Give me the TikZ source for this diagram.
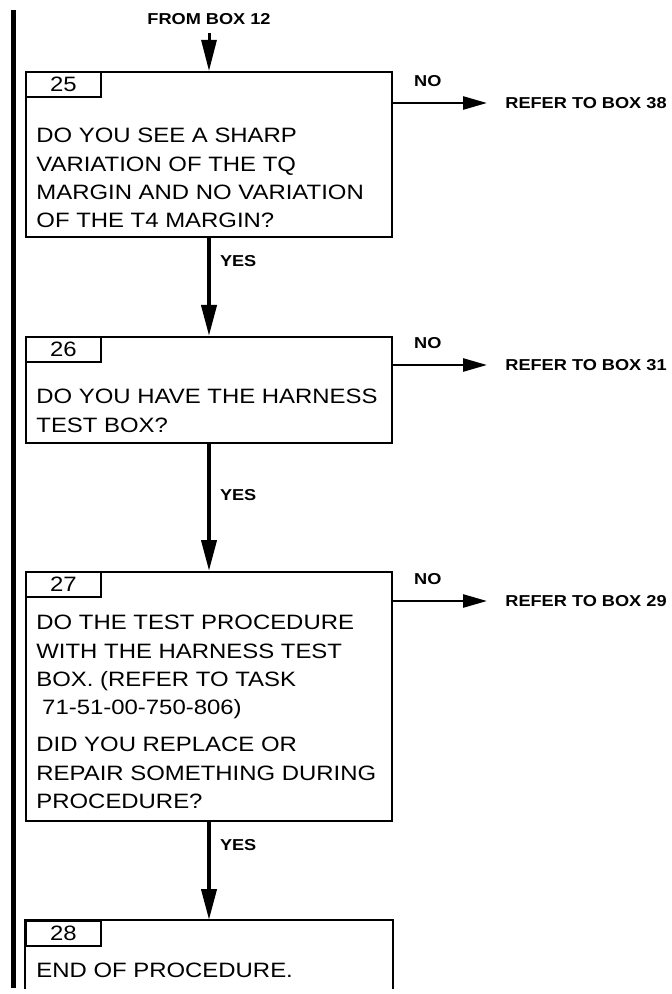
\documentclass[tikz,border=0pt]{standalone}
\usepackage{fontspec}
\setmainfont{Liberation Sans}[FakeStretch=1.15]
\usetikzlibrary{arrows.meta,positioning}
\tikzset{
  box/.style={draw,line width=1pt,minimum width=183pt,minimum height=#1,inner sep=0pt},
  box/.default=50pt,
  tab/.style={draw,line width=1pt,minimum width=37.5pt,minimum height=12.5pt,inner sep=0pt,
    anchor=north west,font=\fontsize{10.4}{12}\selectfont},
  txt/.style={anchor=north west,inner sep=0pt,align=left,font=\fontsize{10.4}{14.15}\selectfont},
  flow/.style={-{Triangle[length=15.5pt,width=7.5pt]},line width=2pt},
  noflow/.style={-{Triangle[length=12pt,width=6.5pt]},line width=1.3pt},
  lbl/.style={font=\bfseries\fontsize{7.9}{9}\selectfont,inner sep=0pt},
  yeslbl/.style={lbl,anchor=west,xshift=4.5pt},
  nolbl/.style={lbl,anchor=south,yshift=7.5pt},
  refer/.style={lbl,anchor=west,inner sep=9pt},
}
\begin{document}
\begin{tikzpicture}[x=0.5pt,y=-0.5pt]
\useasboundingbox (0,0) rectangle (671,994);
% change bar
\draw[line width=2.5pt] (13,10) -- (13,988);

% boxes
\node[lbl,inner sep=4pt] (from12) at (209,19) {FROM BOX 12};
\node[box=82.5pt] (b25) at (209,154.5) {};
\node[box=53pt] (b26) at (209,390) {};
\node[box=124.5pt] (b27) at (209,696.5) {};
\node[box=33.5pt,draw=none] (b28) at (209,954.5) {};
\draw[line width=1pt] (b28.south west) |- (b28.north east) -- (b28.south east);

\node[tab] (n25) at (b25.north west) {25};
\node[tab] (n26) at (b26.north west) {26};
\node[tab] (n27) at (b27.north west) {27};
\node[tab] (n28) at (b28.north west) {28};

\node[txt] (t25) at (36,128) {DO YOU SEE A SHARP\\VARIATION OF THE TQ\\MARGIN AND NO VARIATION\\OF THE T4 MARGIN?};
\node[txt] (t26) at (36,389) {DO YOU HAVE THE HARNESS\\TEST BOX?};
\node[txt] (t27) at (36,615) {DO THE TEST PROCEDURE\\WITH THE HARNESS TEST\\BOX. (REFER TO TASK\\\hspace*{0.28em}71-51-00-750-806)\\[4.35pt]DID YOU REPLACE OR\\REPAIR SOMETHING DURING\\PROCEDURE?};
\node[txt] (t28) at (36,963) {END OF PROCEDURE.};

% exits
\node[refer] (r38) at (487,103) {REFER TO BOX 38};
\node[refer] (r31) at (487,365) {REFER TO BOX 31};
\node[refer] (r29) at (487,601) {REFER TO BOX 29};

% arrows
\draw[flow,line width=1.5pt] (from12) -- (b25);
\draw[flow] (b25) -- node[yeslbl,pos=0.235] {YES} (b26);
\draw[flow] (b26) -- node[yeslbl,pos=0.4] {YES} (b27);
\draw[flow] (b27) -- node[yeslbl,pos=0.24] {YES} (b28);
\draw[noflow] (b25.east |- r38.west) -- node[nolbl,pos=0.37] {NO} (r38.west);
\draw[noflow] (b26.east |- r31.west) -- node[nolbl,pos=0.37] {NO} (r31.west);
\draw[noflow] (b27.east |- r29.west) -- node[nolbl,pos=0.37] {NO} (r29.west);
\end{tikzpicture}
\end{document}
